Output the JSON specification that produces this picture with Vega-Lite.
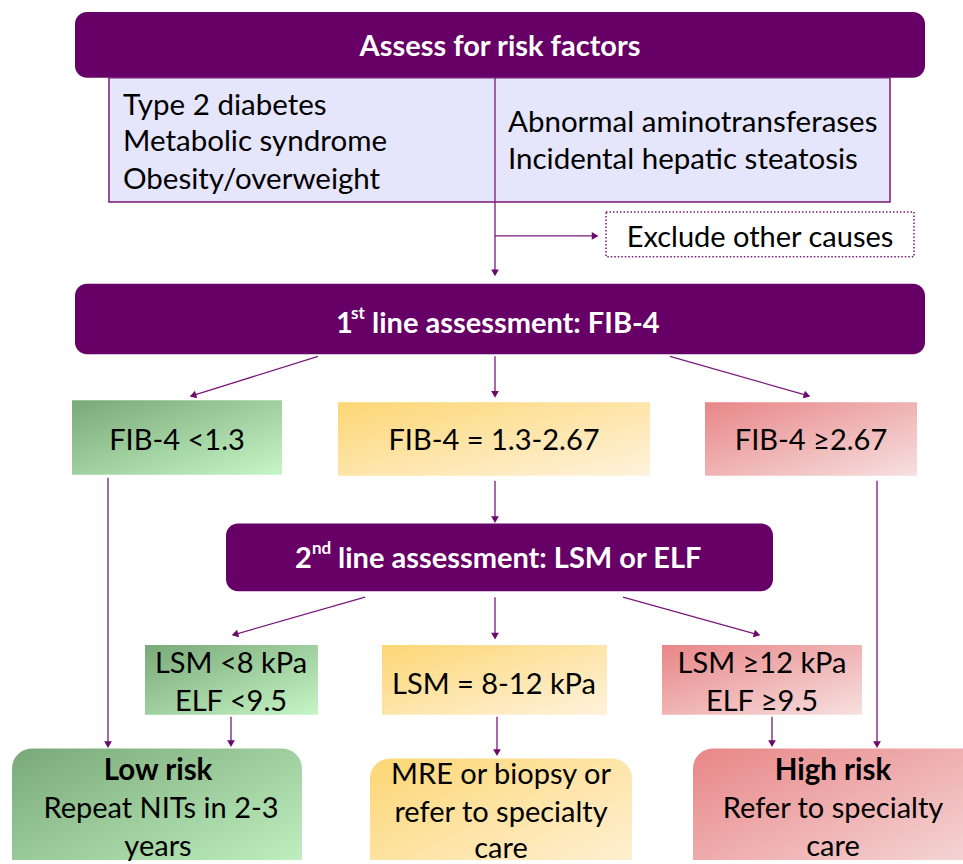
{
  "$schema": "https://vega.github.io/schema/vega-lite/v6.json",
  "width": 963,
  "height": 864,
  "autosize": {"type": "fit", "contains": "padding"},
  "padding": 0,
  "background": "white",
  "config": {"view": {"stroke": null}, "font": "Lato"},
  "datasets": {
    "boxes": [
      {"id": "assess", "tone": "purple", "x1": 75, "x2": 925, "y1": 12, "y2": 78},
      {"id": "first", "tone": "purple", "x1": 75, "x2": 925, "y1": 285, "y2": 356},
      {"id": "second", "tone": "purple", "x1": 226, "x2": 773, "y1": 526, "y2": 594},
      {"id": "factors", "tone": "lavender", "x1": 109, "x2": 890, "y1": 78, "y2": 203},
      {"id": "exclude", "tone": "dotted", "x1": 606, "x2": 914, "y1": 213, "y2": 258},
      {"id": "fibLow", "tone": "green", "x1": 72, "x2": 282, "y1": 402, "y2": 477},
      {"id": "lsmLow", "tone": "green", "x1": 145, "x2": 318, "y1": 648, "y2": 718},
      {"id": "lowRisk", "tone": "greenR", "x1": 12, "x2": 302, "y1": 752, "y2": 890},
      {"id": "fibMid", "tone": "yellow", "x1": 338, "x2": 650, "y1": 404, "y2": 478},
      {"id": "lsmMid", "tone": "yellow", "x1": 382, "x2": 607, "y1": 648, "y2": 718},
      {"id": "mre", "tone": "yellowR", "x1": 370, "x2": 632, "y1": 762, "y2": 890},
      {"id": "fibHigh", "tone": "red", "x1": 705, "x2": 917, "y1": 404, "y2": 478},
      {"id": "lsmHigh", "tone": "red", "x1": 662, "x2": 862, "y1": 648, "y2": 718},
      {"id": "highRisk", "tone": "redR", "x1": 693, "x2": 990, "y1": 752, "y2": 890}
    ],
    "lines": [
      {"x": 495, "y": 78, "x2": 495, "y2": 203, "arrow": false},
      {"x": 495, "y": 203, "x2": 495, "y2": 273, "arrow": true},
      {"x": 495, "y": 237, "x2": 594, "y2": 237, "arrow": true},
      {"x": 318, "y": 358, "x2": 194, "y2": 397, "arrow": true},
      {"x": 495, "y": 358, "x2": 495, "y2": 395, "arrow": true},
      {"x": 670, "y": 358, "x2": 806, "y2": 397, "arrow": true},
      {"x": 108, "y": 480, "x2": 108, "y2": 747, "arrow": true},
      {"x": 495, "y": 483, "x2": 495, "y2": 521, "arrow": true},
      {"x": 877, "y": 483, "x2": 877, "y2": 747, "arrow": true},
      {"x": 365, "y": 600, "x2": 236, "y2": 637, "arrow": true},
      {"x": 495, "y": 600, "x2": 495, "y2": 638, "arrow": true},
      {"x": 623, "y": 600, "x2": 756, "y2": 637, "arrow": true},
      {"x": 231, "y": 720, "x2": 231, "y2": 746, "arrow": true},
      {"x": 497, "y": 720, "x2": 497, "y2": 755, "arrow": true},
      {"x": 772, "y": 720, "x2": 772, "y2": 746, "arrow": true}
    ],
    "labels": [
      {"role": "whiteC", "x": 500, "y": 46, "text": "Assess for risk factors"},
      {"role": "whiteL", "x": 336, "y": 324, "text": "1"},
      {"role": "whiteSup", "x": 351, "y": 314, "text": "st"},
      {"role": "whiteL", "x": 372, "y": 324, "text": "line assessment: FIB-4"},
      {"role": "whiteL", "x": 295, "y": 561, "text": "2"},
      {"role": "whiteSup", "x": 312, "y": 551, "text": "nd"},
      {"role": "whiteL", "x": 338, "y": 561, "text": "line assessment: LSM or ELF"},
      {"role": "blackL", "x": 123, "y": 104, "text": "Type 2 diabetes"},
      {"role": "blackL", "x": 123, "y": 141, "text": "Metabolic syndrome"},
      {"role": "blackL", "x": 123, "y": 179, "text": "Obesity/overweight"},
      {"role": "blackL", "x": 508, "y": 122, "text": "Abnormal aminotransferases"},
      {"role": "blackL", "x": 508, "y": 159, "text": "Incidental hepatic steatosis"},
      {"role": "blackC", "x": 760, "y": 237, "text": "Exclude other causes"},
      {"role": "blackC", "x": 177, "y": 441, "text": "FIB-4 <1.3"},
      {"role": "blackC", "x": 494, "y": 441, "text": "FIB-4 = 1.3-2.67"},
      {"role": "blackC", "x": 811, "y": 441, "text": "FIB-4 ≥2.67"},
      {"role": "blackC", "x": 231, "y": 665, "text": "LSM <8 kPa"},
      {"role": "blackC", "x": 231, "y": 703, "text": "ELF <9.5"},
      {"role": "blackC", "x": 494, "y": 686, "text": "LSM = 8-12 kPa"},
      {"role": "blackC", "x": 762, "y": 665, "text": "LSM ≥12 kPa"},
      {"role": "blackC", "x": 762, "y": 703, "text": "ELF ≥9.5"},
      {"role": "blackB", "x": 158, "y": 773, "text": "Low risk"},
      {"role": "blackC", "x": 161, "y": 811, "text": "Repeat NITs in 2-3"},
      {"role": "blackC", "x": 158, "y": 849, "text": "years"},
      {"role": "blackC", "x": 501, "y": 777, "text": "MRE or biopsy or"},
      {"role": "blackC", "x": 501, "y": 815, "text": "refer to specialty"},
      {"role": "blackC", "x": 501, "y": 851, "text": "care"},
      {"role": "blackB", "x": 833, "y": 773, "text": "High risk"},
      {"role": "blackC", "x": 833, "y": 811, "text": "Refer to specialty"},
      {"role": "blackC", "x": 833, "y": 849, "text": "care"}
    ]
  },
  "resolve": {"scale": {"x": "shared", "y": "shared"}},
  "layer": [
    {
      "data": {"name": "boxes"},
      "transform": [{"filter": "datum.tone === 'purple'"}],
      "mark": {"type": "rect", "fill": "#660066", "cornerRadius": 12},
      "encoding": {
        "x": {"field": "x1", "type": "quantitative", "scale": {"domain": [0, 963], "nice": false, "zero": false}, "axis": null},
        "x2": {"field": "x2"},
        "y": {"field": "y1", "type": "quantitative", "scale": {"domain": [0, 864], "nice": false, "zero": false, "reverse": true}, "axis": null},
        "y2": {"field": "y2"}
      }
    },
    {
      "data": {"name": "boxes"},
      "transform": [{"filter": "datum.tone === 'lavender'"}],
      "mark": {"type": "rect", "fill": "#e5e5fb", "stroke": "#7a1a7a", "strokeWidth": 1.5},
      "encoding": {
        "x": {"field": "x1", "type": "quantitative"},
        "x2": {"field": "x2"},
        "y": {"field": "y1", "type": "quantitative"},
        "y2": {"field": "y2"}
      }
    },
    {
      "data": {"name": "boxes"},
      "transform": [{"filter": "datum.tone === 'dotted'"}],
      "mark": {"type": "rect", "fill": "white", "stroke": "#7a1a7a", "strokeWidth": 1.5, "strokeDash": [1.5, 2]},
      "encoding": {
        "x": {"field": "x1", "type": "quantitative"},
        "x2": {"field": "x2"},
        "y": {"field": "y1", "type": "quantitative"},
        "y2": {"field": "y2"}
      }
    },
    {
      "data": {"name": "boxes"},
      "transform": [{"filter": "datum.tone === 'green'"}],
      "mark": {"type": "rect", "fill": {"gradient": "linear", "x1": 0, "y1": 0, "x2": 1, "y2": 1, "stops": [{"offset": 0, "color": "#79a979"}, {"offset": 1, "color": "#c6f6c6"}]}},
      "encoding": {
        "x": {"field": "x1", "type": "quantitative"},
        "x2": {"field": "x2"},
        "y": {"field": "y1", "type": "quantitative"},
        "y2": {"field": "y2"}
      }
    },
    {
      "data": {"name": "boxes"},
      "transform": [{"filter": "datum.tone === 'greenR'"}],
      "mark": {"type": "rect", "clip": true, "cornerRadius": 20, "fill": {"gradient": "linear", "x1": 0, "y1": 0, "x2": 1, "y2": 1, "stops": [{"offset": 0, "color": "#79a979"}, {"offset": 1, "color": "#c6f6c6"}]}},
      "encoding": {
        "x": {"field": "x1", "type": "quantitative"},
        "x2": {"field": "x2"},
        "y": {"field": "y1", "type": "quantitative"},
        "y2": {"field": "y2"}
      }
    },
    {
      "data": {"name": "boxes"},
      "transform": [{"filter": "datum.tone === 'yellow'"}],
      "mark": {"type": "rect", "fill": {"gradient": "linear", "x1": 0, "y1": 0, "x2": 1, "y2": 1, "stops": [{"offset": 0, "color": "#fdd775"}, {"offset": 1, "color": "#fef2dc"}]}},
      "encoding": {
        "x": {"field": "x1", "type": "quantitative"},
        "x2": {"field": "x2"},
        "y": {"field": "y1", "type": "quantitative"},
        "y2": {"field": "y2"}
      }
    },
    {
      "data": {"name": "boxes"},
      "transform": [{"filter": "datum.tone === 'yellowR'"}],
      "mark": {"type": "rect", "clip": true, "cornerRadius": 20, "fill": {"gradient": "linear", "x1": 0, "y1": 0, "x2": 1, "y2": 1, "stops": [{"offset": 0, "color": "#fdd775"}, {"offset": 1, "color": "#fef2dc"}]}},
      "encoding": {
        "x": {"field": "x1", "type": "quantitative"},
        "x2": {"field": "x2"},
        "y": {"field": "y1", "type": "quantitative"},
        "y2": {"field": "y2"}
      }
    },
    {
      "data": {"name": "boxes"},
      "transform": [{"filter": "datum.tone === 'red'"}],
      "mark": {"type": "rect", "fill": {"gradient": "linear", "x1": 0, "y1": 0, "x2": 1, "y2": 1, "stops": [{"offset": 0, "color": "#e88687"}, {"offset": 1, "color": "#f7e0e0"}]}},
      "encoding": {
        "x": {"field": "x1", "type": "quantitative"},
        "x2": {"field": "x2"},
        "y": {"field": "y1", "type": "quantitative"},
        "y2": {"field": "y2"}
      }
    },
    {
      "data": {"name": "boxes"},
      "transform": [{"filter": "datum.tone === 'redR'"}],
      "mark": {"type": "rect", "clip": true, "cornerRadius": 20, "fill": {"gradient": "linear", "x1": 0, "y1": 0, "x2": 1, "y2": 1, "stops": [{"offset": 0, "color": "#e88687"}, {"offset": 1, "color": "#f7e0e0"}]}},
      "encoding": {
        "x": {"field": "x1", "type": "quantitative"},
        "x2": {"field": "x2"},
        "y": {"field": "y1", "type": "quantitative"},
        "y2": {"field": "y2"}
      }
    },
    {
      "data": {"name": "lines"},
      "mark": {"type": "rule", "color": "#7a1a7a", "strokeWidth": 1.3},
      "encoding": {
        "x": {"field": "x", "type": "quantitative"},
        "x2": {"field": "x2"},
        "y": {"field": "y", "type": "quantitative"},
        "y2": {"field": "y2"}
      }
    },
    {
      "data": {"name": "lines"},
      "transform": [
        {"filter": "datum.arrow"},
        {"calculate": "(atan2(datum.x2 - datum.x, -(datum.y2 - datum.y)) * 180 / PI + 360) % 360", "as": "ang"}
      ],
      "mark": {"type": "point", "shape": "triangle", "filled": true, "color": "#6a0a6a", "size": 60, "opacity": 1},
      "encoding": {
        "x": {"field": "x2", "type": "quantitative"},
        "y": {"field": "y2", "type": "quantitative"},
        "angle": {"field": "ang", "type": "quantitative", "scale": null}
      }
    },
    {
      "data": {"name": "labels"},
      "transform": [{"filter": "datum.role === 'whiteC'"}],
      "mark": {"type": "text", "color": "white", "fontWeight": "bold", "fontSize": 29, "align": "center", "baseline": "middle", "dy": 1},
      "encoding": {
        "x": {"field": "x", "type": "quantitative"},
        "y": {"field": "y", "type": "quantitative"},
        "text": {"field": "text"}
      }
    },
    {
      "data": {"name": "labels"},
      "transform": [{"filter": "datum.role === 'whiteL'"}],
      "mark": {"type": "text", "color": "white", "fontWeight": "bold", "fontSize": 29, "align": "left", "baseline": "middle", "dy": 1},
      "encoding": {
        "x": {"field": "x", "type": "quantitative"},
        "y": {"field": "y", "type": "quantitative"},
        "text": {"field": "text"}
      }
    },
    {
      "data": {"name": "labels"},
      "transform": [{"filter": "datum.role === 'whiteSup'"}],
      "mark": {"type": "text", "color": "white", "fontWeight": "bold", "fontSize": 17, "align": "left", "baseline": "middle", "dy": 1},
      "encoding": {
        "x": {"field": "x", "type": "quantitative"},
        "y": {"field": "y", "type": "quantitative"},
        "text": {"field": "text"}
      }
    },
    {
      "data": {"name": "labels"},
      "transform": [{"filter": "datum.role === 'blackL'"}],
      "mark": {"type": "text", "color": "black", "fontSize": 29.5, "align": "left", "baseline": "middle", "dy": 2},
      "encoding": {
        "x": {"field": "x", "type": "quantitative"},
        "y": {"field": "y", "type": "quantitative"},
        "text": {"field": "text"}
      }
    },
    {
      "data": {"name": "labels"},
      "transform": [{"filter": "datum.role === 'blackC'"}],
      "mark": {"type": "text", "color": "black", "fontSize": 29, "align": "center", "baseline": "middle", "dy": 2},
      "encoding": {
        "x": {"field": "x", "type": "quantitative"},
        "y": {"field": "y", "type": "quantitative"},
        "text": {"field": "text"}
      }
    },
    {
      "data": {"name": "labels"},
      "transform": [{"filter": "datum.role === 'blackB'"}],
      "mark": {"type": "text", "color": "black", "fontWeight": "bold", "fontSize": 29.5, "align": "center", "baseline": "middle", "dy": 2},
      "encoding": {
        "x": {"field": "x", "type": "quantitative"},
        "y": {"field": "y", "type": "quantitative"},
        "text": {"field": "text"}
      }
    }
  ]
}
